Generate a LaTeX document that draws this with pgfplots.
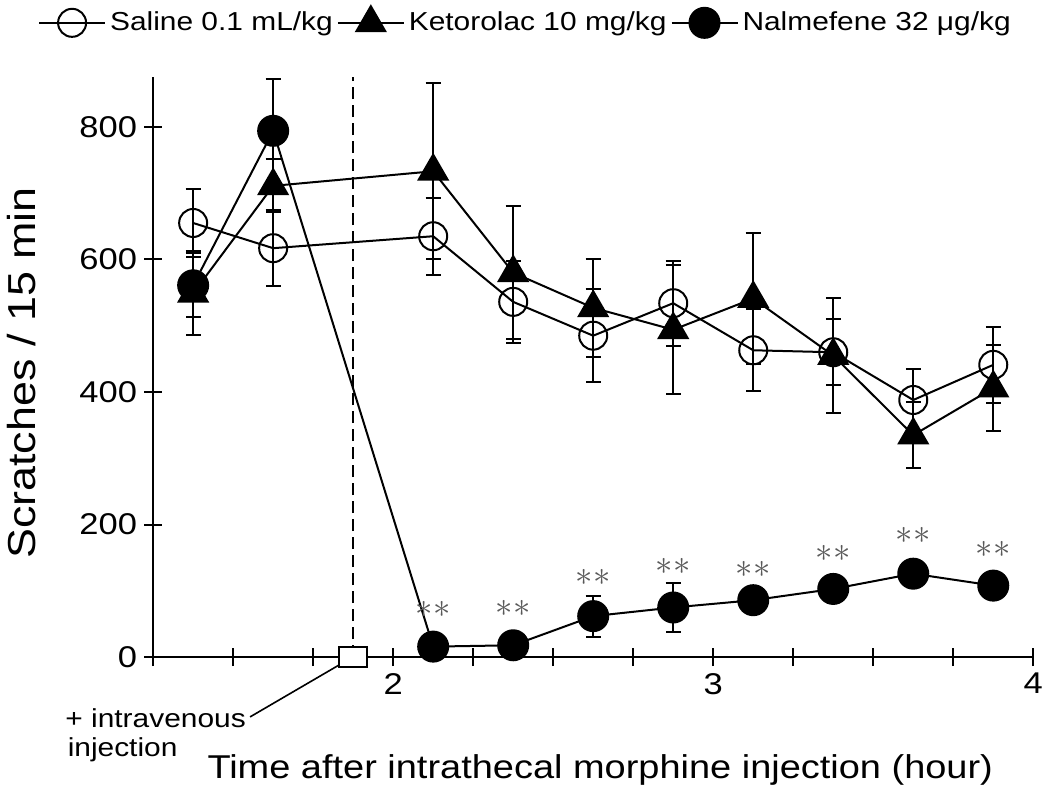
\documentclass[border=0pt]{standalone}
\usepackage{fontspec}
\setmainfont{Liberation Sans}[FakeStretch=1.15]
\setsansfont{Liberation Sans}[FakeStretch=1.15]
\usepackage{pgfplots}
\pgfplotsset{compat=1.18}

% mean, SEM
\pgfplotstableread{
x     y    e
1.375 655  52
1.625 617  57
2.125 635  58
2.375 536  62
2.625 485  70
2.875 534  64
3.125 463  62
3.375 460  50
3.625 388  47
3.875 441  57
}\saline
\pgfplotstableread{
x     y    e
1.375 549  63
1.625 711  40
2.125 733  133
2.375 580  100
2.625 527  74
2.875 494  97
3.125 541  99
3.375 455  87
3.625 335  50
3.875 406  65
}\ketorolac
\pgfplotstableread{
x     y    e
1.375 561  48
1.625 794  78
2.125 16   6
2.375 18   6
2.625 62   31
2.875 75   37
3.125 86   10
3.375 103  10
3.625 126  17
3.875 108  16
}\nalmefene

\begin{document}
\begin{tikzpicture}
\begin{axis}[
  scale only axis, width=440pt, height=290pt,
  xmin=1.25, xmax=4, ymin=0, ymax=875,
  axis x line=bottom, axis y line=left,
  axis line style={-, line width=1.1pt},
  xtick={2,3,4},
  minor xtick={1.25,1.5,1.75,2.25,2.5,2.75,3.25,3.5,3.75},
  ytick={0,200,...,800},
  tick align=center, major tick length=9pt, minor tick length=9pt,
  every tick/.style={black, line width=1pt},
  ticklabel style={font=\fontsize{15}{15}\selectfont},
  /pgf/number format/assume math mode=true,
  xlabel={Time after intrathecal morphine injection (hour)},
  ylabel={Scratches / 15 min},
  xlabel style={at={(rel axis cs:0.508,-0.195)}, anchor=center,
    font=\fontsize{16.5}{18}\selectfont},
  ylabel style={at={(rel axis cs:-0.149,0.49)}, anchor=center,
    font=\fontsize{19.5}{21}\selectfont},
  clip=false,
  legend columns=3,
  legend style={draw=none, fill=none, at={(-0.138,1.095)}, anchor=west,
    font=\fontsize{13}{14}\selectfont,
    /tikz/every even column/.append style={column sep=0pt}},
  legend image code/.code={\draw[mark repeat=2,mark phase=2,#1]
    plot coordinates {(0pt,0pt) (16.5pt,0pt) (33pt,0pt)};},
  error bars/y dir=both, error bars/y explicit,
  error bars/error mark options={rotate=90, mark size=3.75pt, line width=1pt},
  error bars/error bar style={line width=1pt},
]
\addplot[black, line width=1pt, mark=o, mark size=7pt,
  mark options={line width=1pt}]
  table[x=x, y=y, y error=e] {\saline};
\addlegendentry{Saline 0.1 mL/kg}
\addplot[black, line width=1pt, mark=triangle*, mark size=8.3pt]
  table[x=x, y=y, y error=e] {\ketorolac};
\addlegendentry{Ketorolac 10 mg/kg}
\addplot[black, line width=1pt, mark=*, mark size=7.5pt]
  table[x=x, y=y, y error=e] {\nalmefene};
\addlegendentry{Nalmefene 32 μg/kg}

% intravenous injection marker
\addplot[black, line width=1pt, dash pattern=on 6pt off 3pt, forget plot]
  coordinates {(1.875,0) (1.875,875)};
\addplot[black, line width=0.8pt, only marks, mark=square*, mark size=5pt,
  mark options={xscale=1.4, fill=white}, forget plot]
  coordinates {(1.875,0)};
\draw[line width=0.8pt] (axis cs:1.862,-3) -- (axis cs:1.553,-90);
\node[anchor=east, inner sep=1pt, font=\fontsize{13}{13}\selectfont]
  at (axis cs:1.547,-92) {+ intravenous};
\node[anchor=west, inner sep=0pt, font=\fontsize{13}{13}\selectfont]
  at (axis cs:0.982,-140) {injection};

% significance marks
\node[text=black!65, font=\fontsize{18}{18}\selectfont] at (axis cs:2.125,72) {$\ast\ast$};
\node[text=black!65, font=\fontsize{18}{18}\selectfont] at (axis cs:2.375,74) {$\ast\ast$};
\node[text=black!65, font=\fontsize{18}{18}\selectfont] at (axis cs:2.625,120) {$\ast\ast$};
\node[text=black!65, font=\fontsize{18}{18}\selectfont] at (axis cs:2.875,137) {$\ast\ast$};
\node[text=black!65, font=\fontsize{18}{18}\selectfont] at (axis cs:3.125,132) {$\ast\ast$};
\node[text=black!65, font=\fontsize{18}{18}\selectfont] at (axis cs:3.375,156) {$\ast\ast$};
\node[text=black!65, font=\fontsize{18}{18}\selectfont] at (axis cs:3.625,183) {$\ast\ast$};
\node[text=black!65, font=\fontsize{18}{18}\selectfont] at (axis cs:3.875,162) {$\ast\ast$};

\path (rel axis cs:-0.174,-0.2345) rectangle (rel axis cs:1.019,1.133);
\end{axis}
\end{tikzpicture}
\end{document}
